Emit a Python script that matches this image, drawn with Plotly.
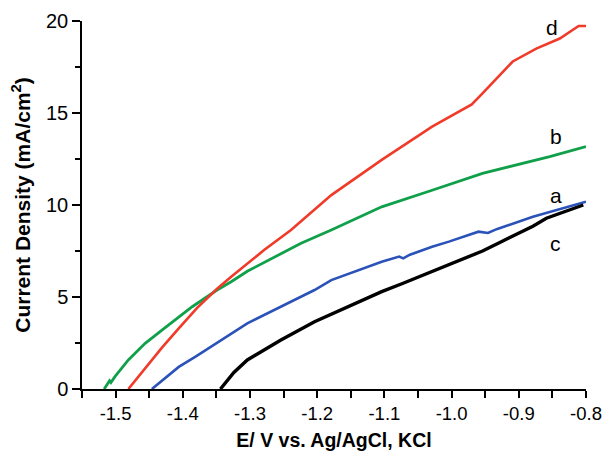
import plotly.graph_objects as go

# Curve d (red)
d_x = [-1.481, -1.456, -1.431, -1.406, -1.379, -1.349, -1.328, -1.279, -1.239, -1.179,
       -1.104, -1.029, -0.970, -0.954, -0.909, -0.874, -0.839, -0.811, -0.800]
d_y = [0, 1.15, 2.25, 3.3, 4.4, 5.45, 6.1, 7.55, 8.64, 10.54,
       12.45, 14.26, 15.47, 16.07, 17.8, 18.5, 19.05, 19.73, 19.73]

# Curve b (green)
b_x = [-1.517, -1.512, -1.509, -1.507, -1.501, -1.481, -1.456, -1.431, -1.406, -1.386,
       -1.349, -1.328, -1.304, -1.254, -1.224, -1.179, -1.104, -1.029, -0.954, -0.854, -0.800]
b_y = [0, 0.3, 0.45, 0.35, 0.67, 1.58, 2.48, 3.2, 3.93, 4.47,
       5.38, 5.83, 6.4, 7.37, 7.92, 8.64, 9.9, 10.8, 11.72, 12.63, 13.17]

# Curve a (blue)
a_x = [-1.446, -1.406, -1.381, -1.304, -1.204, -1.179, -1.104, -1.078, -1.072, -1.062,
       -1.029, -1.004, -0.960, -0.946, -0.932, -0.879, -0.800]
a_y = [0, 1.2, 1.76, 3.57, 5.38, 5.92, 6.92, 7.2, 7.1, 7.3,
       7.73, 8.01, 8.55, 8.48, 8.7, 9.36, 10.18]

# Curve c (black)
c_x = [-1.344, -1.324, -1.304, -1.254, -1.204, -1.154, -1.104, -1.074, -1.004, -0.954,
       -0.929, -0.879, -0.859, -0.804]
c_y = [0, 0.9, 1.58, 2.66, 3.66, 4.47, 5.29, 5.72, 6.74, 7.5,
       7.95, 8.85, 9.28, 10.0]

labels = ["d", "b", "a", "c"]
label_x = [-0.851, -0.845, -0.845, -0.846]
label_y = [19.65, 13.75, 10.54, 7.93]

x_ticks = [-1.5, -1.4, -1.3, -1.2, -1.1, -1.0, -0.9, -0.8]
x_ticktext = ["-1.5", "-1.4", "-1.3", "-1.2", "-1.1", "-1.0", "-0.9", "-0.8"]
y_ticks = [0, 5, 10, 15, 20]

fig = go.Figure()
fig.add_trace(go.Scatter(x=b_x, y=b_y, mode="lines", line=dict(color="#10A04A", width=2.8)))
fig.add_trace(go.Scatter(x=a_x, y=a_y, mode="lines", line=dict(color="#2A52B8", width=2.6)))
fig.add_trace(go.Scatter(x=c_x, y=c_y, mode="lines", line=dict(color="#000000", width=3.4)))
fig.add_trace(go.Scatter(x=d_x, y=d_y, mode="lines", line=dict(color="#F03A2A", width=2.6)))

font_fam = "Arial, Liberation Sans, sans-serif"
for t, xx, yy in zip(labels, label_x, label_y):
    fig.add_annotation(x=xx, y=yy, text=t, showarrow=False,
                       font=dict(size=21, color="black", family=font_fam))

fig.update_layout(
    width=606, height=451,
    margin=dict(l=82, r=20, t=21, b=62),
    plot_bgcolor="white", paper_bgcolor="white",
    showlegend=False,
    font=dict(family=font_fam, color="black", size=18),
    xaxis=dict(
        range=[-1.55, -0.8], tickvals=x_ticks, ticktext=x_ticktext,
        automargin=False,
        showline=True, linecolor="black", linewidth=1.5,
        ticks="outside", ticklen=7, tickwidth=1.5, tickcolor="black",
        minor=dict(dtick=0.05, tick0=-1.5, ticks="outside", ticklen=7, tickwidth=1.5, tickcolor="black"),
        showgrid=False, zeroline=False,
        tickfont=dict(size=18.5),
        title=dict(text="<b>E/ V vs. Ag/AgCl, KCl</b>", font=dict(size=19.5), standoff=14),
    ),
    yaxis=dict(
        range=[0, 20], tickvals=y_ticks,
        automargin=False,
        showline=True, linecolor="black", linewidth=1.5,
        ticks="outside", ticklen=8, tickwidth=1.5, tickcolor="black",
        minor=dict(dtick=2.5, tick0=0, ticks="outside", ticklen=5, tickwidth=1.5, tickcolor="black"),
        showgrid=False, zeroline=False,
        tickfont=dict(size=20),
        title=dict(text="<b>Current Density (mA/cm<sup>2</sup>)</b>", font=dict(size=21), standoff=10),
    ),
)

fig.write_html(
    "out.html",
    config={"displayModeBar": False},
    post_script="document.body.style.margin='0px';document.body.style.overflow='hidden';",
)
